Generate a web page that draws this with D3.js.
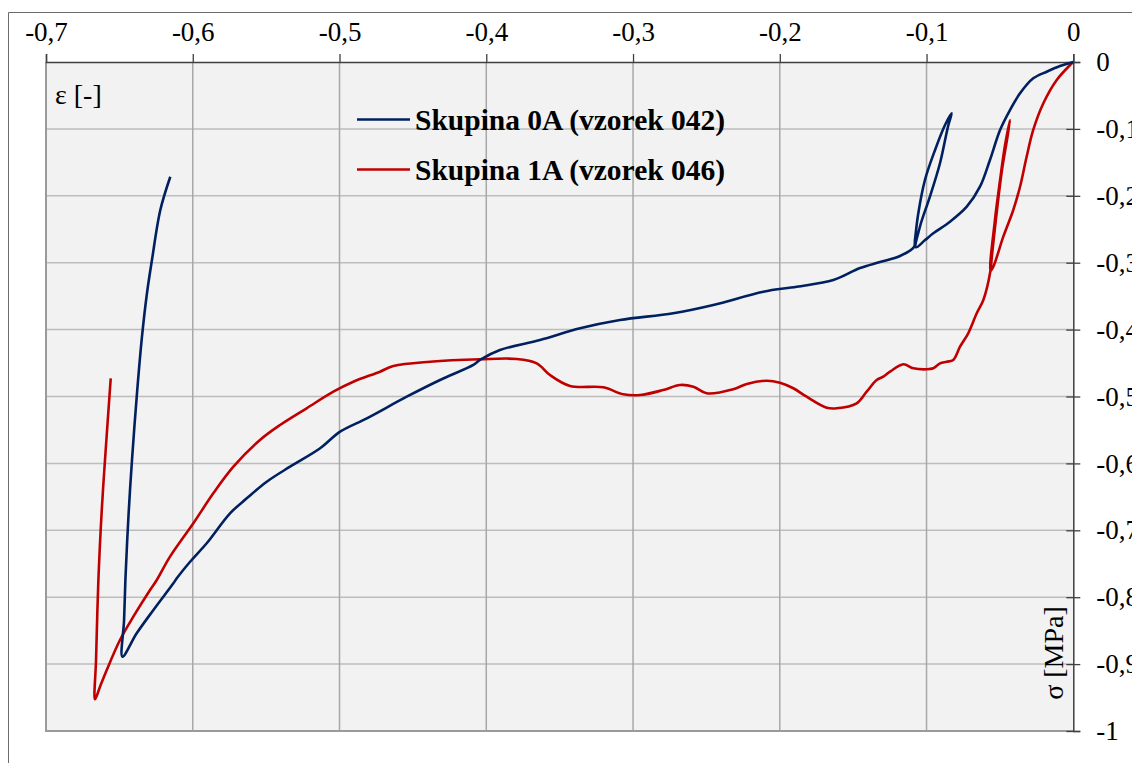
<!DOCTYPE html>
<html>
<head>
<meta charset="utf-8">
<script src="https://cdnjs.cloudflare.com/ajax/libs/d3/7.8.5/d3.min.js"></script>
<style>
  body { margin: 0; background: #fff; }
  svg { display: block; font-family: "Liberation Serif", "Times New Roman", serif; }
</style>
</head>
<body>
<script>
// axis ticks
var xTicks = [-0.7, -0.6, -0.5, -0.4, -0.3, -0.2, -0.1, 0];
var yTicks = [0, -0.1, -0.2, -0.3, -0.4, -0.5, -0.6, -0.7, -0.8, -0.9, -1];

var seriesNames = ["Skupina 0A (vzorek 042)", "Skupina 1A (vzorek 046)"];

// Skupina 0A: [strain, stress]
var blueData = [
  [0, 0], [-0.0091, -0.006], [-0.0181, -0.0145], [-0.0273, -0.0244], [-0.0363, -0.0468],
  [-0.0431, -0.0717], [-0.0499, -0.1016], [-0.0568, -0.1465], [-0.0636, -0.1864],
  [-0.0726, -0.2163], [-0.0840, -0.2387], [-0.0954, -0.2561], [-0.1010, -0.2661],
  [-0.1072, -0.2770],
  // unload / reload loop
  [-0.1045, -0.2462], [-0.0977, -0.2013], [-0.0908, -0.1510], [-0.0854, -0.0967],
  [-0.0829, -0.0767], [-0.0874, -0.0942], [-0.0942, -0.1315], [-0.1011, -0.1764],
  [-0.1058, -0.2287], [-0.1079, -0.2661], [-0.1085, -0.2765],
  [-0.1181, -0.2900], [-0.1317, -0.2990], [-0.1453, -0.3079], [-0.1635, -0.3259],
  [-0.1885, -0.3359], [-0.2112, -0.3434], [-0.2453, -0.3632], [-0.2726, -0.3756],
  [-0.3089, -0.3857], [-0.3361, -0.3981], [-0.3634, -0.4156], [-0.3907, -0.4305],
  [-0.4043, -0.4454], [-0.4088, -0.4529], [-0.4315, -0.4753], [-0.4542, -0.5003],
  [-0.4814, -0.5326], [-0.4996, -0.5526], [-0.5132, -0.5774], [-0.5337, -0.6049],
  [-0.5496, -0.6274], [-0.5632, -0.6522], [-0.5746, -0.6746], [-0.5905, -0.7194],
  [-0.6018, -0.7470], [-0.6109, -0.7718], [-0.6132, -0.7792], [-0.6268, -0.8191],
  [-0.6382, -0.8540], [-0.6479, -0.8889],
  // unloading
  [-0.6468, -0.8341], [-0.6459, -0.7743], [-0.6437, -0.6746], [-0.6414, -0.5949],
  [-0.6380, -0.4952], [-0.6346, -0.4106], [-0.6312, -0.3457], [-0.6278, -0.2960],
  [-0.6221, -0.2212], [-0.6153, -0.1715]
];

// Skupina 1A: [strain, stress]
var redData = [
  [0, 0], [-0.0022, -0.0045], [-0.0113, -0.0269], [-0.0204, -0.0617], [-0.0273, -0.1016],
  [-0.0318, -0.1416], [-0.0363, -0.1864], [-0.0409, -0.2212], [-0.0477, -0.2611],
  [-0.0545, -0.3060], [-0.0564, -0.3124],
  // loop
  [-0.0534, -0.2362], [-0.0499, -0.1764], [-0.0465, -0.1241], [-0.0431, -0.0867],
  [-0.0452, -0.1166], [-0.0486, -0.1614], [-0.0520, -0.2212], [-0.0554, -0.2885],
  [-0.0566, -0.3140],
  [-0.0613, -0.3558], [-0.0658, -0.3756], [-0.0716, -0.4055], [-0.0772, -0.4256],
  [-0.0818, -0.4454], [-0.0863, -0.4480], [-0.0908, -0.4504], [-0.0954, -0.4578],
  [-0.0999, -0.4593], [-0.1090, -0.4578], [-0.1158, -0.4519], [-0.1249, -0.4629],
  [-0.1295, -0.4704], [-0.1340, -0.4753], [-0.1408, -0.4928], [-0.1476, -0.5102],
  [-0.1612, -0.5176], [-0.1680, -0.5167], [-0.1817, -0.5003], [-0.1908, -0.4877],
  [-0.1999, -0.4794], [-0.2089, -0.4764], [-0.2225, -0.4813], [-0.2317, -0.4892],
  [-0.2498, -0.4952], [-0.2589, -0.4854], [-0.2680, -0.4828], [-0.2794, -0.4903],
  [-0.2952, -0.4978], [-0.3066, -0.4967], [-0.3203, -0.4863], [-0.3429, -0.4843],
  [-0.3566, -0.4679], [-0.3656, -0.4504], [-0.3793, -0.4439], [-0.4043, -0.4444],
  [-0.4383, -0.4480], [-0.4633, -0.4544], [-0.4724, -0.4629], [-0.4906, -0.4779],
  [-0.5042, -0.4928], [-0.5224, -0.5176], [-0.5405, -0.5426], [-0.5542, -0.5650],
  [-0.5723, -0.6049], [-0.5860, -0.6447], [-0.5996, -0.6895], [-0.6155, -0.7394],
  [-0.6245, -0.7743], [-0.6291, -0.7892], [-0.6405, -0.8291], [-0.6496, -0.8640],
  [-0.6586, -0.9088], [-0.6632, -0.9338], [-0.6666, -0.9526],
  // unloading
  [-0.6659, -0.8939], [-0.6643, -0.7743], [-0.6620, -0.6697], [-0.6598, -0.5949],
  [-0.6559, -0.4728]
];

var width = 1132, height = 763;
var plotL = 46, plotR = 1073.3, plotT = 62, plotB = 731;

var svg = d3.select("body").append("svg")
  .attr("width", width)
  .attr("height", height);

// outer frame (only top/left visible)
svg.append("path")
  .attr("d", "M8.5," + height + "V12.5H" + width)
  .attr("fill", "none")
  .attr("stroke", "#6b6b6b")
  .attr("stroke-width", 1);

var x = d3.scaleLinear().domain([-0.7, 0]).range([plotL, plotR]);
var y = d3.scaleLinear().domain([-1, 0]).range([plotB, plotT]);

var locale = d3.formatLocale({decimal: ",", thousands: " ", grouping: [3], currency: ["", ""], minus: "-"});
var fmt = locale.format("~g");

// plot background
svg.append("rect")
  .attr("x", plotL).attr("y", plotT)
  .attr("width", plotR - plotL).attr("height", plotB - plotT)
  .attr("fill", "#f2f2f2");

// grid
svg.append("g").selectAll("line")
  .data(yTicks.slice(1, -1)).enter().append("line")
  .attr("x1", plotL).attr("x2", plotR)
  .attr("y1", function(d) { return y(d); }).attr("y2", function(d) { return y(d); })
  .attr("stroke", "#bdbdbd").attr("stroke-width", 1.5);

svg.append("g").selectAll("line")
  .data(xTicks.slice(1, -1)).enter().append("line")
  .attr("y1", plotT).attr("y2", plotB)
  .attr("x1", function(d) { return x(d); }).attr("x2", function(d) { return x(d); })
  .attr("stroke", "#a8a8a8").attr("stroke-width", 1.5);

// left / bottom border of plot
svg.append("path")
  .attr("d", "M" + plotL + "," + plotT + "V" + plotB + "H" + plotR)
  .attr("fill", "none")
  .attr("stroke", "#9a9a9a")
  .attr("stroke-width", 2);

// top axis
var xAxis = svg.append("g")
  .attr("transform", "translate(0," + plotT + ")")
  .call(d3.axisTop(x).tickValues(xTicks).tickFormat(fmt).tickSize(8).tickPadding(13));

// right axis
var yAxis = svg.append("g")
  .attr("transform", "translate(" + plotR + ",0)")
  .call(d3.axisRight(y).tickValues(yTicks).tickFormat(fmt).tickSize(7).tickPadding(16));
yAxis.selectAll(".tick line").attr("x1", -7);

[xAxis, yAxis].forEach(function(a) {
  a.select(".domain").attr("stroke", "#404040").attr("stroke-width", 1.5);
  a.selectAll(".tick line").attr("stroke", "#404040").attr("stroke-width", 1.3);
  a.selectAll(".tick text")
    .attr("font-family", "Liberation Serif, serif")
    .attr("font-size", 27)
    .attr("fill", "#000");
});

// series lines
var line = d3.line()
  .curve(d3.curveCatmullRom.alpha(0.5))
  .x(function(d) { return x(d[0]); })
  .y(function(d) { return y(d[1]); });

var colors = ["#002060", "#c00000"];

svg.append("path").datum(redData)
  .attr("d", line).attr("fill", "none")
  .attr("stroke", colors[1]).attr("stroke-width", 2.6)
  .attr("stroke-linejoin", "round");

svg.append("path").datum(blueData)
  .attr("d", line).attr("fill", "none")
  .attr("stroke", colors[0]).attr("stroke-width", 2.6)
  .attr("stroke-linejoin", "round");

// axis titles
svg.append("text")
  .attr("x", 55).attr("y", 104)
  .attr("font-size", 28)
  .text("ε [-]");

svg.append("text")
  .attr("transform", "translate(1063,653) rotate(-90)")
  .attr("text-anchor", "middle")
  .attr("font-size", 28)
  .text("σ [MPa]");

// legend
var legend = svg.append("g").selectAll("g")
  .data(seriesNames).enter().append("g")
  .attr("transform", function(d, i) { return "translate(357," + (119.5 + i * 50) + ")"; });

legend.append("line")
  .attr("x1", 0).attr("x2", 53)
  .attr("stroke", function(d, i) { return colors[i]; })
  .attr("stroke-width", 2.5);

legend.append("text")
  .attr("x", 58).attr("dy", "0.35em")
  .attr("font-size", 29.5)
  .attr("font-weight", "bold")
  .text(function(d) { return d; });
</script>
</body>
</html>
